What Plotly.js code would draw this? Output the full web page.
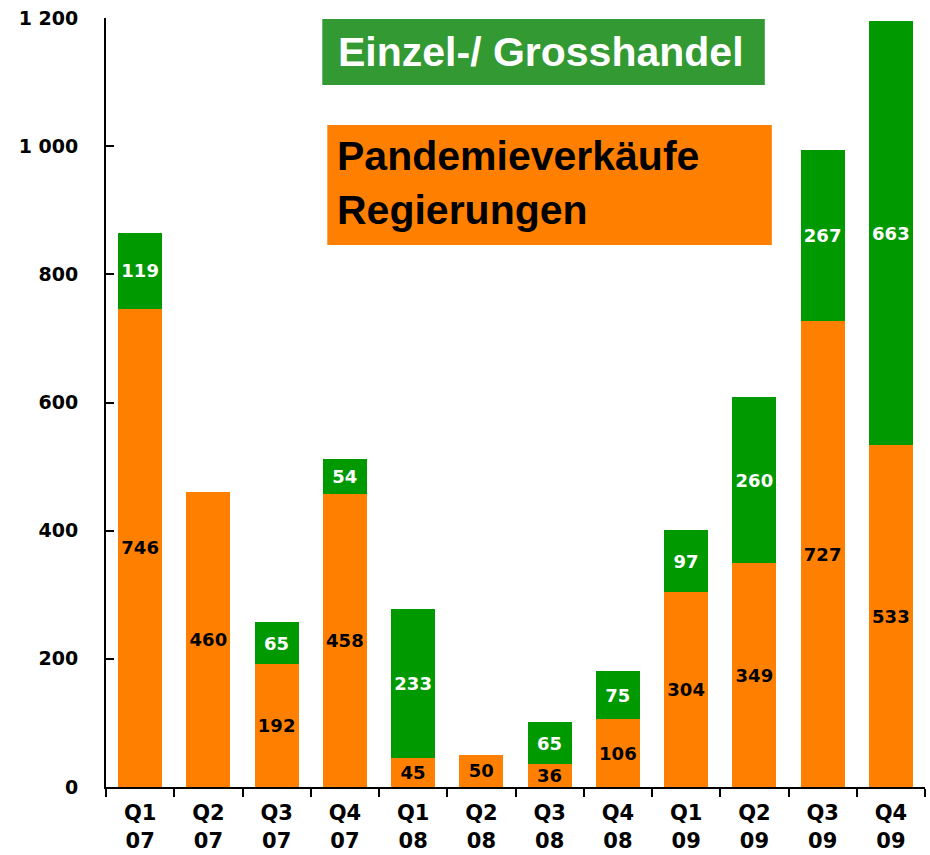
<!DOCTYPE html>
<html>
<head>
<meta charset="utf-8">
<script src="https://cdn.plot.ly/plotly-3.0.1.min.js"></script>
<style>
  html, body { margin: 0; padding: 0; background: #fff; }
  #chart { width: 930px; height: 855px; }
</style>
</head>
<body>
<div id="chart"></div>
<script>
// quarters 2007-2009
const quarters = ['Q1<br>07', 'Q2<br>07', 'Q3<br>07', 'Q4<br>07',
                  'Q1<br>08', 'Q2<br>08', 'Q3<br>08', 'Q4<br>08',
                  'Q1<br>09', 'Q2<br>09', 'Q3<br>09', 'Q4<br>09']
const governments = [746, 460, 192, 458, 45, 50, 36, 106, 304, 349, 727, 533]
const retail = [119, null, 65, 54, 233, null, 65, 75, 97, 260, 267, 663]
const yTicks = [0, 200, 400, 600, 800, 1000, 1200]

const labelFont = { family: 'DejaVu Sans', size: 18, weight: 'bold' }

const traceGov = {
    x: quarters,
    y: governments,
    type: 'bar',
    name: 'Pandemieverkäufe Regierungen',
    marker: { color: '#ff8000' },
    texttemplate: '%{y}',
    textposition: 'inside',
    insidetextanchor: 'middle',
    textangle: 0,
    constraintext: 'none',
    insidetextfont: { ...labelFont, color: '#000' },
    hoverinfo: 'x+y'
}

const traceRetail = {
    x: quarters,
    y: retail,
    type: 'bar',
    name: 'Einzel-/ Grosshandel',
    marker: { color: '#009900' },
    texttemplate: '%{y}',
    textposition: 'inside',
    insidetextanchor: 'middle',
    textangle: 0,
    constraintext: 'none',
    insidetextfont: { ...labelFont, color: '#fff' },
    hoverinfo: 'x+y'
}

const boxFont = { family: 'Liberation Sans, Arial, sans-serif', size: 41, weight: 'bold' }

const layout = {
    width: 930,
    height: 855,
    margin: { l: 106, r: 5, t: 18, b: 68 },
    barmode: 'stack',
    bargap: 0.355,
    showlegend: false,
    separators: ', ',
    paper_bgcolor: '#fff',
    plot_bgcolor: '#fff',
    font: { family: 'DejaVu Sans', size: 20, color: '#000', weight: 'bold' },
    xaxis: {
        type: 'category',
        showline: true,
        linecolor: '#000',
        linewidth: 2,
        ticks: 'outside',
        tickson: 'boundaries',
        ticklen: 8,
        tickwidth: 2,
        tickcolor: '#000',
        showgrid: false,
        ticklabelstandoff: 6,
        tickfont: { family: 'DejaVu Sans', size: 21, weight: 'bold' }
    },
    yaxis: {
        range: [0, 1200],
        tickvals: yTicks,
        separatethousands: true,
        showline: true,
        linecolor: '#000',
        linewidth: 2,
        ticks: 'inside',
        ticklen: 8,
        tickwidth: 2,
        tickcolor: '#000',
        showgrid: false,
        zeroline: false,
        ticklabelstandoff: 22,
        tickfont: { family: 'DejaVu Sans', size: 19, weight: 'bold' }
    },
    shapes: [
        { type: 'rect', xref: 'paper', yref: 'paper', x0: 0.2641, x1: 0.8044, y0: 0.9129, y1: 0.9987,
          fillcolor: '#339933', line: { width: 0 } },
        { type: 'rect', xref: 'paper', yref: 'paper', x0: 0.2702, x1: 0.8130, y0: 0.7048, y1: 0.8609,
          fillcolor: '#ff8000', line: { width: 0 } }
    ],
    annotations: [
        { xref: 'paper', yref: 'paper', x: 0.281, y: 0.956, xanchor: 'left', yanchor: 'middle',
          text: 'Einzel-/ Grosshandel', showarrow: false, font: { ...boxFont, color: '#fff' } },
        { xref: 'paper', yref: 'paper', x: 0.28, y: 0.8205, xanchor: 'left', yanchor: 'middle',
          text: 'Pandemieverkäufe', showarrow: false, font: { ...boxFont, color: '#000' } },
        { xref: 'paper', yref: 'paper', x: 0.28, y: 0.750, xanchor: 'left', yanchor: 'middle',
          text: 'Regierungen', showarrow: false, font: { ...boxFont, color: '#000' } }
    ]
}

Plotly.newPlot('chart', [traceGov, traceRetail], layout, { displayModeBar: false, staticPlot: true })
</script>
</body>
</html>
